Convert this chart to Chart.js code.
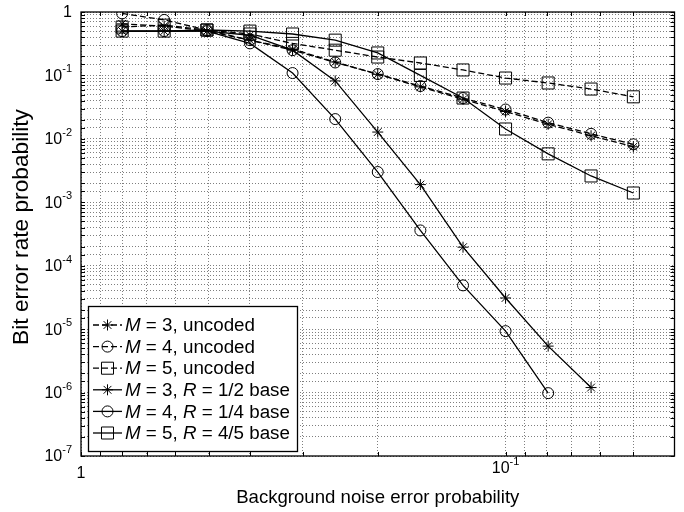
<!DOCTYPE html>
<html>
<head>
<meta charset="utf-8">
<script src="https://cdn.jsdelivr.net/npm/chart.js@4.4.1/dist/chart.umd.min.js"></script>
<style>
  body { margin: 0; background: #fff; }
</style>
</head>
<body>
<canvas id="ber" width="684" height="512"></canvas>
<script>
// background noise error probability (x)
const noiseProb = [0.0125, 0.0157, 0.0198, 0.025, 0.0315, 0.0397, 0.05, 0.063, 0.0794, 0.1, 0.126, 0.159, 0.2];

// bit error rate
const m3Uncoded = [0.65, 0.6, 0.5, 0.36, 0.26, 0.163, 0.104, 0.066, 0.042, 0.027, 0.017, 0.0112, 0.0075];
const m4Uncoded = [0.95, 0.75, 0.52, 0.36, 0.25, 0.16, 0.105, 0.068, 0.044, 0.029, 0.018, 0.012, 0.0082];
const m5Uncoded = [0.58, 0.62, 0.52, 0.45, 0.32, 0.25, 0.195, 0.157, 0.122, 0.091, 0.076, 0.061, 0.046];
const m3Coded = [0.5, 0.5, 0.5, 0.43, 0.25, 0.082, 0.0128, 0.0019, 1.96e-4, 3.1e-5, 5.4e-6, 1.2e-6];
const m4Coded = [0.5, 0.5, 0.5, 0.32, 0.109, 0.0205, 0.003, 3.6e-4, 4.9e-5, 9.3e-6, 9.8e-7];
const m5Coded = [0.5, 0.5, 0.52, 0.5, 0.45, 0.36, 0.226, 0.1, 0.044, 0.0143, 0.0058, 0.0026, 0.0014];

const seriesLabels = [
  'M = 3, uncoded', 'M = 4, uncoded', 'M = 5, uncoded',
  'M = 3, R = 1/2 base', 'M = 4, R = 1/4 base', 'M = 5, R = 4/5 base'
];

// axis ticks
const xGrid = [1/100, 1/90, 1/80, 1/70, 1/60, 1/50, 1/40, 1/30, 1/20, 1/10, 1/9, 1/8, 1/7, 1/6, 1/5];
const xTickValues = [0.01, 0.1];
const xTickLabels = [['1', ''], ['10', '-1']];
const yTickValues = [1, 1e-1, 1e-2, 1e-3, 1e-4, 1e-5, 1e-6, 1e-7];
const yTickLabels = [['1', ''], ['10', '-1'], ['10', '-2'], ['10', '-3'], ['10', '-4'], ['10', '-5'], ['10', '-6'], ['10', '-7']];

const FONT = "'Liberation Sans', Arial, sans-serif";

function pts(vals) {
  return vals.map((v, i) => ({ x: noiseProb[i], y: v }));
}

function series(label, vals, style, dashed) {
  const radius = style === 'rect' ? 8.5 : 5.5;
  return {
    label: label,
    data: pts(vals),
    borderColor: '#000',
    backgroundColor: 'rgba(0,0,0,0)',
    borderWidth: 1.3,
    borderDash: dashed ? [6, 3] : [],
    pointStyle: style,
    pointRadius: radius,
    pointHoverRadius: radius,
    pointBorderColor: '#000',
    pointBackgroundColor: 'rgba(0,0,0,0)',
    pointBorderWidth: 1,
    tension: 0,
    fill: false
  };
}

// font size so that text spans about `width` px
function fitSize(ctx, text, width) {
  ctx.font = '20px ' + FONT;
  return 20 * width / ctx.measureText(text).width;
}

function drawPow(ctx, base, exp, x, y, align) {
  ctx.font = '16px ' + FONT;
  const wb = ctx.measureText(base).width;
  ctx.font = '11px ' + FONT;
  const we = exp ? ctx.measureText(exp).width : 0;
  const w = wb + we;
  let left = x;
  if (align === 'right') left = x - w;
  else if (align === 'center') left = x - w / 2;
  ctx.textAlign = 'left';
  ctx.textBaseline = 'middle';
  ctx.font = '16px ' + FONT;
  ctx.fillText(base, left, y);
  if (exp) {
    ctx.font = '11px ' + FONT;
    ctx.fillText(exp, left + wb, y - 7);
  }
}

function drawMixed(ctx, text, x, y, size) {
  const parts = text.split(/\b([MR])\b/);
  let cx = x;
  ctx.textAlign = 'left';
  ctx.textBaseline = 'middle';
  parts.forEach(p => {
    if (!p) return;
    const italic = p === 'M' || p === 'R';
    ctx.font = (italic ? 'italic ' : '') + size + 'px ' + FONT;
    ctx.fillText(p, cx, y);
    cx += ctx.measureText(p).width;
  });
}

const decor = {
  id: 'decor',
  beforeDraw(chart) {
    const ctx = chart.ctx;
    ctx.save();
    ctx.fillStyle = '#fff';
    ctx.fillRect(0, 0, chart.width, chart.height);
    ctx.restore();
  },
  afterDraw(chart) {
    const { ctx, chartArea: a, scales } = chart;
    const xs = scales.x, ys = scales.y;
    ctx.save();
    ctx.fillStyle = '#000';
    ctx.strokeStyle = '#000';

    // small inward ticks
    ctx.lineWidth = 1;
    ctx.beginPath();
    xGrid.forEach(v => {
      const px = Math.round(xs.getPixelForValue(v)) + 0.5;
      ctx.moveTo(px, a.bottom); ctx.lineTo(px, a.bottom - 4);
      ctx.moveTo(px, a.top); ctx.lineTo(px, a.top + 4);
    });
    ys.ticks.forEach(t => {
      const py = Math.round(ys.getPixelForValue(t.value)) + 0.5;
      ctx.moveTo(a.left, py); ctx.lineTo(a.left + 4, py);
      ctx.moveTo(a.right, py); ctx.lineTo(a.right - 4, py);
    });
    ctx.stroke();

    // frame
    ctx.lineWidth = 1.3;
    ctx.strokeRect(a.left, a.top, a.right - a.left, a.bottom - a.top);

    // tick labels
    yTickValues.forEach((v, i) => {
      drawPow(ctx, yTickLabels[i][0], yTickLabels[i][1], 72, ys.getPixelForValue(v) + 1, 'right');
    });
    xTickValues.forEach((v, i) => {
      const lab = xTickLabels[i];
      drawPow(ctx, lab[0], lab[1], xs.getPixelForValue(v), a.bottom + (lab[1] ? 13 : 18), 'center');
    });

    // axis titles
    const xTitle = 'Background noise error probability';
    const yTitle = 'Bit error rate probability';
    ctx.textAlign = 'center';
    ctx.textBaseline = 'middle';
    ctx.font = fitSize(ctx, xTitle, 283).toFixed(1) + 'px ' + FONT;
    ctx.fillText(xTitle, (a.left + a.right) / 2, 498);
    ctx.font = fitSize(ctx, yTitle, 236).toFixed(1) + 'px ' + FONT;
    ctx.save();
    ctx.translate(22, 227);
    ctx.rotate(-Math.PI / 2);
    ctx.fillText(yTitle, 0, 0);
    ctx.restore();

    // legend
    const lx = 88, ly = 306, lw = 209, lh = 145;
    ctx.fillStyle = '#fff';
    ctx.fillRect(lx, ly, lw, lh);
    ctx.lineWidth = 1.3;
    ctx.strokeStyle = '#000';
    ctx.strokeRect(lx + 0.5, ly + 0.5, lw, lh);
    chart.data.datasets.forEach((ds, i) => {
      const ry = ly + 19 + i * 21.6;
      ctx.strokeStyle = '#000';
      ctx.lineWidth = ds.borderWidth;
      ctx.setLineDash(ds.borderDash);
      ctx.beginPath();
      ctx.moveTo(lx + 5, ry);
      ctx.lineTo(lx + 34, ry);
      ctx.stroke();
      ctx.setLineDash([]);
      ctx.lineWidth = 1;
      ctx.fillStyle = 'rgba(0,0,0,0)';
      Chart.helpers.drawPoint(ctx, {
        pointStyle: ds.pointStyle,
        radius: ds.pointRadius,
        rotation: 0,
        borderWidth: 1
      }, lx + 19.5, ry);
      ctx.fillStyle = '#000';
      drawMixed(ctx, ds.label, lx + 37, ry + 1, 18.8);
    });
    ctx.restore();
  }
};

const gridStyle = {
  color: 'rgba(0,0,0,0.5)',
  lineWidth: 1,
  drawTicks: false
};

new Chart(document.getElementById('ber'), {
  type: 'line',
  data: {
    datasets: [
      series(seriesLabels[0], m3Uncoded, 'star', true),
      series(seriesLabels[1], m4Uncoded, 'circle', true),
      series(seriesLabels[2], m5Uncoded, 'rect', true),
      series(seriesLabels[3], m3Coded, 'star', false),
      series(seriesLabels[4], m4Coded, 'circle', false),
      series(seriesLabels[5], m5Coded, 'rect', false)
    ]
  },
  options: {
    responsive: false,
    animation: false,
    devicePixelRatio: 1,
    layout: { padding: { left: 81, top: 12, right: 9, bottom: 56 } },
    plugins: {
      legend: { display: false },
      tooltip: { enabled: false }
    },
    scales: {
      x: {
        type: 'logarithmic',
        min: 0.01,
        max: 0.25,
        grid: gridStyle,
        border: { display: false, dash: [1, 2] },
        ticks: { display: false },
        afterBuildTicks: s => { s.ticks = xGrid.map(v => ({ value: v })); }
      },
      y: {
        type: 'logarithmic',
        min: 1e-7,
        max: 1,
        grid: gridStyle,
        border: { display: false, dash: [1, 2] },
        ticks: { display: false }
      }
    }
  },
  plugins: [decor]
});
</script>
</body>
</html>
